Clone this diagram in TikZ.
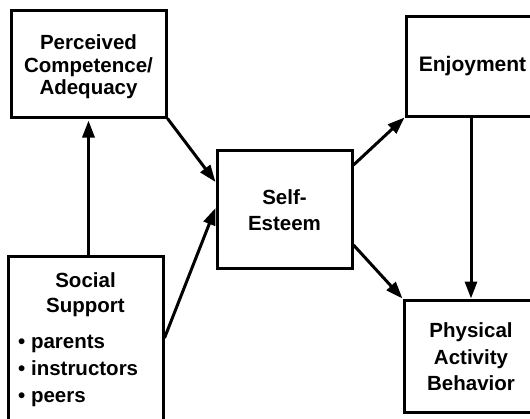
\documentclass[tikz,border=0pt]{standalone}
\usepackage{fontspec}
\setmainfont{Liberation Sans}
\usetikzlibrary{arrows.meta}
\tikzset{every picture/.style={x=1pt,y=-1pt}}
\tikzset{
box/.style={draw,line width=3pt,inner sep=0pt},
lbl/.style={font=\bfseries\fontsize{20}{23}\selectfont,align=center,inner sep=0pt},
arr/.style={line width=3pt,-{Triangle[length=17pt,width=12pt]}},
}

\begin{document}
\begin{tikzpicture}
\useasboundingbox (0,0) rectangle (530,418);
\clip (0,0) rectangle (530,418);
\node[box,minimum width=155,minimum height=107] (perc) at (88.5,63.5) {};
\node[box,minimum width=134,minimum height=100] (enjoy) at (473,66) {};
\node[box,minimum width=135,minimum height=118] (self) at (284.5,209) {};
\node[box,minimum width=155,minimum height=174] (social) at (85.5,343) {};
\node[box,minimum width=136,minimum height=112] (phys) at (472,356) {};
%% texts
\node[lbl,font=\bfseries\fontsize{20.5}{22.5}\selectfont] (percT) at (88.5,67) {Perceived\\Competence/\\Adequacy};
\node[lbl,font=\bfseries\fontsize{21}{23}\selectfont] (enjoyT) at (472.5,66) {Enjoyment};
\node[lbl,font=\bfseries\fontsize{20.5}{26}\selectfont] (selfT) at (284.5,210) {Self-\\Esteem};
\node[lbl,font=\bfseries\fontsize{20.5}{25}\selectfont] (socialT) at (85.5,295) {Social\\Support};
\node[lbl,font=\bfseries\fontsize{20.5}{27}\selectfont,align=left,anchor=west] (socialL) at (18,371) {\textbullet\ parents\\\textbullet\ instructors\\\textbullet\ peers};
\node[lbl,font=\bfseries\fontsize{20.5}{26.5}\selectfont] (physT) at (471,357) {Physical\\Activity\\Behavior};
%% arrows
\draw[arr] (perc.south |- social.north) -- ([yshift=-2pt]perc.south);
\draw[arr] (perc.south east) -- ([yshift=27pt]self.west);
\draw[arr] ([yshift=5pt]social.east) -- ([yshift=1pt]self.west);
\draw[arr] ([yshift=44pt]self.east) -- (enjoy.south west);
\draw[arr] ([yshift=-36pt]self.east) -- (phys.north west);
\draw[arr] (enjoy.south -| physT) -- (phys.north -| physT);
\end{tikzpicture}
\end{document}
